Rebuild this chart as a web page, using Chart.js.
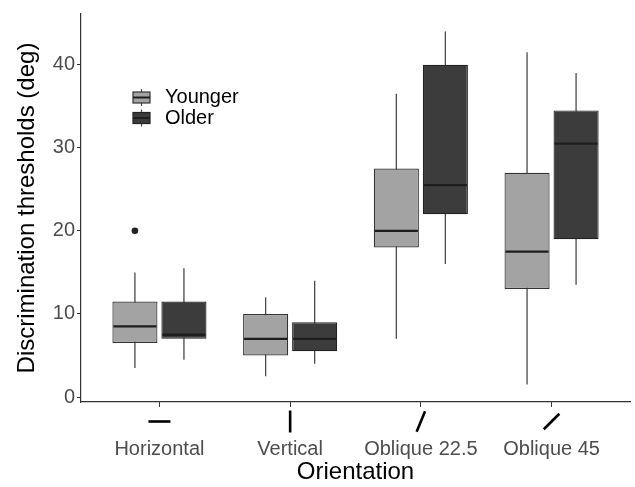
<!DOCTYPE html>
<html>
<head>
<meta charset="utf-8">
<script src="https://cdn.jsdelivr.net/npm/chart.js@4.4.0/dist/chart.umd.min.js"></script>
<style>
  html, body { margin: 0; padding: 0; background: #fff; }
</style>
</head>
<body>
<canvas id="boxChart" width="635" height="487"></canvas>
<script>
// categories and box statistics
const categories = ['Horizontal', 'Vertical', 'Oblique 22.5', 'Oblique 45'];
const glyphAngles = [0, 90, 67.5, 45]; // orientation of the little line under each tick

const youngerLow  = [3.5, 2.5, 7, 1.5];
const youngerQ1   = [6.5, 5, 18, 13];
const youngerMed  = [8.5, 7, 20, 17.5];
const youngerQ3   = [11.5, 10, 27.5, 27];
const youngerHigh = [15, 12, 36.5, 41.5];
const youngerOut  = [[20], [], [], []];

const olderLow  = [4.5, 4, 16, 13.5];
const olderQ1   = [7, 5.5, 22, 19];
const olderMed  = [7.5, 7, 25.5, 30.5];
const olderQ3   = [11.5, 9, 40, 34.5];
const olderHigh = [15.5, 14, 44, 39];
const olderOut  = [[], [], [], []];

const yTicks = [0, 10, 20, 30, 40];

const FONT = "'Liberation Sans', Arial, Helvetica, sans-serif";

const stats = [
    { low: youngerLow, med: youngerMed, high: youngerHigh, q1: youngerQ1, q3: youngerQ3, out: youngerOut },
    { low: olderLow, med: olderMed, high: olderHigh, q1: olderQ1, q3: olderQ3, out: olderOut }
];

function boxData(q1, q3) {
    return q1.map((v, i) => ({ x: i, y: [v, q3[i]] }));
}

const boxPlugin = {
    id: 'boxExtras',
    beforeDatasetsDraw(chart) {
        const ctx = chart.ctx;
        const y = chart.scales.y;
        ctx.save();
        ctx.strokeStyle = '#4a4a4a';
        ctx.lineWidth = 1.3;
        stats.forEach((s, d) => {
            chart.getDatasetMeta(d).data.forEach((bar, i) => {
                ctx.beginPath();
                ctx.moveTo(bar.x, y.getPixelForValue(s.low[i]));
                ctx.lineTo(bar.x, y.getPixelForValue(s.high[i]));
                ctx.stroke();
            });
        });
        ctx.restore();
    },
    afterDatasetsDraw(chart) {
        const ctx = chart.ctx;
        const y = chart.scales.y;
        ctx.save();
        stats.forEach((s, d) => {
            chart.getDatasetMeta(d).data.forEach((bar, i) => {
                const half = bar.width / 2;
                const py = y.getPixelForValue(s.med[i]);
                ctx.strokeStyle = '#1e1e1e';
                ctx.lineWidth = 2.4;
                ctx.beginPath();
                ctx.moveTo(bar.x - half + 1, py);
                ctx.lineTo(bar.x + half - 1, py);
                ctx.stroke();
                ctx.fillStyle = '#222';
                s.out[i].forEach(v => {
                    ctx.beginPath();
                    ctx.arc(bar.x, y.getPixelForValue(v), 3.3, 0, Math.PI * 2);
                    ctx.fill();
                });
            });
        });
        ctx.restore();
    },
    afterDraw(chart) {
        const ctx = chart.ctx;
        const x = chart.scales.x;
        ctx.save();
        // orientation glyphs under the ticks
        ctx.strokeStyle = '#000';
        ctx.lineWidth = 2.6;
        const gy = 421.5, len = 22;
        glyphAngles.forEach((a, i) => {
            const px = x.getPixelForValue(i);
            const r = a * Math.PI / 180;
            const dx = Math.cos(r) * len / 2, dy = Math.sin(r) * len / 2;
            ctx.beginPath();
            ctx.moveTo(px - dx, gy + dy);
            ctx.lineTo(px + dx, gy - dy);
            ctx.stroke();
        });

        // legend
        const keys = [
            { label: 'Younger', fill: '#a3a3a3', border: '#333', cy: 97.5 },
            { label: 'Older', fill: '#3c3c3c', border: '#222', cy: 118 }
        ];
        ctx.font = '20px ' + FONT;
        ctx.textBaseline = 'middle';
        keys.forEach(k => {
            const kx = 133, kw = 17, kh = 11;
            ctx.strokeStyle = '#4a4a4a';
            ctx.lineWidth = 1.2;
            ctx.beginPath();
            ctx.moveTo(kx + kw / 2, k.cy - kh / 2 - 3);
            ctx.lineTo(kx + kw / 2, k.cy + kh / 2 + 3);
            ctx.stroke();
            ctx.fillStyle = k.fill;
            ctx.fillRect(kx, k.cy - kh / 2, kw, kh);
            ctx.strokeStyle = k.border;
            ctx.lineWidth = 1.2;
            ctx.strokeRect(kx, k.cy - kh / 2, kw, kh);
            ctx.strokeStyle = '#1e1e1e';
            ctx.lineWidth = 2;
            ctx.beginPath();
            ctx.moveTo(kx, k.cy);
            ctx.lineTo(kx + kw, k.cy);
            ctx.stroke();
            ctx.fillStyle = '#000';
            ctx.fillText(k.label, 165, k.cy);
        });
        ctx.restore();
    }
};

new Chart(document.getElementById('boxChart'), {
    type: 'bar',
    data: {
        datasets: [{
            label: 'Younger',
            data: boxData(youngerQ1, youngerQ3),
            backgroundColor: '#a3a3a3',
            borderColor: '#333',
            borderWidth: 1.2,
            borderSkipped: false
        }, {
            label: 'Older',
            data: boxData(olderQ1, olderQ3),
            backgroundColor: '#3c3c3c',
            borderColor: '#222',
            borderWidth: 1.2,
            borderSkipped: false
        }]
    },
    options: {
        responsive: false,
        animation: false,
        devicePixelRatio: 1,
        categoryPercentage: 0.75,
        barPercentage: 0.92,
        layout: { padding: { top: 10, right: 5, left: 0, bottom: 0 } },
        plugins: {
            legend: { display: false },
            tooltip: { enabled: false }
        },
        scales: {
            x: {
                type: 'linear',
                min: -0.6,
                max: 3.6,
                offset: false,
                afterBuildTicks: s => { s.ticks = categories.map((c, i) => ({ value: i })); },
                afterFit: s => { s.height = 85; },
                grid: { offset: false, drawOnChartArea: false, drawTicks: true, tickLength: 5, color: '#333' },
                border: { display: true, color: '#333', width: 1.2 },
                ticks: {
                    callback: v => categories[v],
                    color: '#4d4d4d',
                    font: { size: 20, family: FONT },
                    padding: 30,
                    maxRotation: 0,
                    autoSkip: false
                },
                title: {
                    display: true,
                    text: 'Orientation',
                    color: '#000',
                    font: { size: 24, family: FONT },
                    padding: { top: 0, bottom: 0 }
                }
            },
            y: {
                min: -0.6,
                max: 46.1,
                afterBuildTicks: s => { s.ticks = yTicks.map(v => ({ value: v })); },
                afterFit: s => { s.width = 81; },
                grid: { drawOnChartArea: false, drawTicks: true, tickLength: 4, color: '#333' },
                border: { display: true, color: '#333', width: 1.2 },
                ticks: {
                    color: '#4d4d4d',
                    font: { size: 20, family: FONT },
                    padding: 2
                },
                title: {
                    display: true,
                    text: 'Discrimination thresholds (deg)',
                    color: '#000',
                    font: { size: 24, family: FONT },
                    padding: { top: 13, bottom: 0 }
                }
            }
        }
    },
    plugins: [boxPlugin]
});
</script>
</body>
</html>
